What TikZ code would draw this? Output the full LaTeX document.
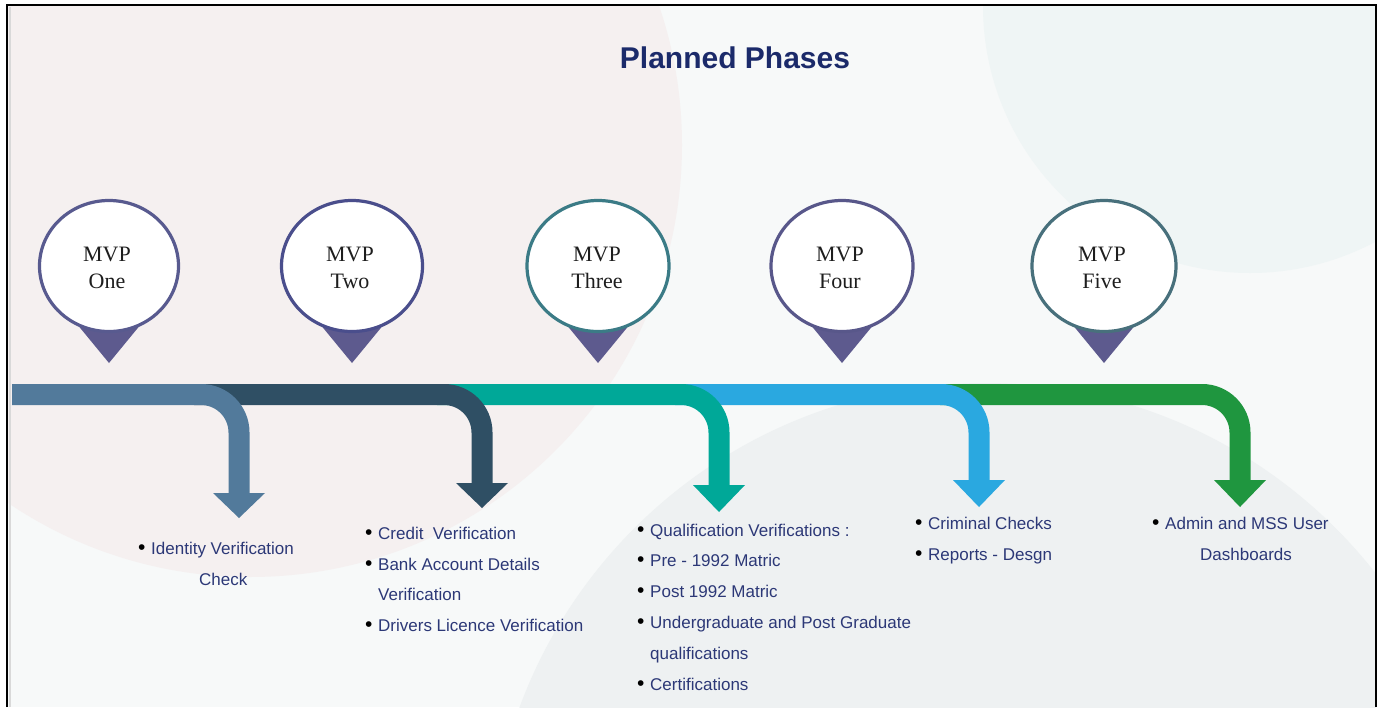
\documentclass[tikz,border=0pt]{standalone}
\usepackage{fontspec}
\setmainfont{Liberation Serif}
\newfontfamily\arialf{Liberation Sans}
\definecolor{bgbase}{HTML}{F7F9F9}
\definecolor{bgpink}{HTML}{F5F0F0}
\definecolor{bgtr}{HTML}{EFF5F5}
\definecolor{bgbr}{HTML}{EEF1F2}
\definecolor{titlec}{HTML}{1B2A6A}
\definecolor{txtc}{HTML}{2C3877}
\definecolor{mvptext}{HTML}{1E1E1E}
\definecolor{pintri}{HTML}{5D5A8E}
\definecolor{pb1}{HTML}{585A8F}
\definecolor{pb2}{HTML}{4A4E8C}
\definecolor{pb3}{HTML}{3B7B86}
\definecolor{pb4}{HTML}{58578A}
\definecolor{pb5}{HTML}{48707C}
\definecolor{ac1}{HTML}{527A9B}
\definecolor{ac2}{HTML}{2F4F64}
\definecolor{ac3}{HTML}{00A898}
\definecolor{ac4}{HTML}{2AA8E0}
\definecolor{ac5}{HTML}{1F963F}
\begin{document}
\begin{tikzpicture}[x=1pt,y=-1pt,
  band/.style={line width=21pt, rounded corners=38pt, line cap=butt},
  pincircle/.style={line width=3.2pt, fill=white},
  mvp/.style={anchor=base, inner sep=0pt, font=\fontsize{22}{26}\selectfont, text=mvptext},
  bl/.style={anchor=base west, inner sep=0pt, font=\arialf\fontsize{17}{20}\selectfont, text=txtc},
  bul/.style={anchor=base west, inner sep=0pt, font=\arialf\fontsize{21}{24}\selectfont, text=black}]
\useasboundingbox (0,0) rectangle (1380,707);
\fill[white] (0,0) rectangle (1380,707);
% background
\begin{scope}
\clip (7,5) rectangle (1376,707);
\fill[bgbase] (7,5) rectangle (1376,707);
\fill[bgpink] (250,145) circle[radius=432];
\fill[bgtr] (1250,6) circle[radius=267];
\fill[bgbr] (985,879) circle[radius=496];
\end{scope}
% frame
\draw[black, line width=2.5pt] (7,707) -- (7,5) -- (1376,5) -- (1376,707);
\draw[black!15, line width=2pt] (9.8,6.5) -- (9.8,707);
% title
\node[anchor=base, inner sep=0pt, font=\arialf\bfseries\fontsize{30}{34}\selectfont, text=titlec] (title) at (735,68) {Planned Phases};
% arrows (drawn from last to first so earlier ones lie on top)
\coordinate (s5) at (940,394.5); \coordinate (k5) at (1240,394.5); \coordinate (e5) at (1240,481);
\coordinate (s4) at (675,394.5); \coordinate (k4) at (979,394.5); \coordinate (e4) at (979,481);
\coordinate (s3) at (437,394.5); \coordinate (k3) at (719,394.5); \coordinate (e3) at (719,486);
\coordinate (s2) at (194,394.5); \coordinate (k2) at (482,394.5); \coordinate (e2) at (482,484);
\coordinate (s1) at (12,394.5); \coordinate (k1) at (239,394.5); \coordinate (e1) at (239,494);
\draw[band, ac5] (s5) -- (k5) -- (e5);
\fill[ac5] (1214,480) -- (1266,480) -- (1240,507) -- cycle;
\draw[band, ac4] (s4) -- (k4) -- (e4);
\fill[ac4] (953,480) -- (1005,480) -- (979,507) -- cycle;
\draw[band, ac3] (s3) -- (k3) -- (e3);
\fill[ac3] (693,485) -- (745,485) -- (719,512) -- cycle;
\draw[band, ac2] (s2) -- (k2) -- (e2);
\fill[ac2] (456,483) -- (508,483) -- (482,508) -- cycle;
\draw[band, ac1] (s1) -- (k1) -- (e1);
\fill[ac1] (213,493) -- (265,493) -- (239,518) -- cycle;
% pins
\fill[pintri] (72,318) -- (146,318) -- (109,363) -- cycle;
\draw[pincircle, draw=pb1] (109,266) ellipse[x radius=69.5, y radius=65.5];
\fill[pintri] (315,318) -- (389,318) -- (352,363) -- cycle;
\draw[pincircle, draw=pb2] (352,266) ellipse[x radius=70.5, y radius=65.5];
\fill[pintri] (561,318) -- (635,318) -- (598,363) -- cycle;
\draw[pincircle, draw=pb3] (598,266) ellipse[x radius=71, y radius=65.5];
\fill[pintri] (805,318) -- (879,318) -- (842,363) -- cycle;
\draw[pincircle, draw=pb4] (842,266) ellipse[x radius=71, y radius=65.5];
\fill[pintri] (1067,318) -- (1141,318) -- (1104,363) -- cycle;
\draw[pincircle, draw=pb5] (1104,266) ellipse[x radius=72, y radius=65.5];
\node[mvp] (m1a) at (107,261) {MVP}; \node[mvp] (m1b) at (107,288) {One};
\node[mvp] (m2a) at (350,261) {MVP}; \node[mvp] (m2b) at (350,288) {Two};
\node[mvp] (m3a) at (597,261) {MVP}; \node[mvp] (m3b) at (597,288) {Three};
\node[mvp] (m4a) at (840,261) {MVP}; \node[mvp] (m4b) at (840,288) {Four};
\node[mvp] (m5a) at (1102,261) {MVP}; \node[mvp] (m5b) at (1102,288) {Five};
% block 1
\node[bul] (b1a) at (138,554) {•}; \node[bl] (t1a) at (151,554) {Identity Verification};
\node[bl] (t1b) at (199,585) {Check};
% block 2
\node[bul] (b2a) at (365,539) {•}; \node[bl] (t2a) at (378,539) {Credit\ \ Verification};
\node[bul] (b2b) at (365,570) {•}; \node[bl] (t2b) at (378,570) {Bank Account Details};
\node[bl] (t2c) at (378,600) {Verification};
\node[bul] (b2d) at (365,631) {•}; \node[bl] (t2d) at (378,631) {Drivers Licence Verification};
% block 3
\node[bul] (b3a) at (637,536) {•}; \node[bl] (t3a) at (650,536) {Qualification Verifications :};
\node[bul] (b3b) at (637,566) {•}; \node[bl] (t3b) at (650,566) {Pre - 1992 Matric};
\node[bul] (b3c) at (637,597) {•}; \node[bl] (t3c) at (650,597) {Post 1992 Matric};
\node[bul] (b3d) at (637,628) {•}; \node[bl] (t3d) at (650,628) {Undergraduate and Post Graduate};
\node[bl] (t3e) at (650,659) {qualifications};
\node[bul] (b3f) at (637,690) {•}; \node[bl] (t3f) at (650,690) {Certifications};
% block 4
\node[bul] (b4a) at (915,529) {•}; \node[bl] (t4a) at (928,529) {Criminal Checks};
\node[bul] (b4b) at (915,560) {•}; \node[bl] (t4b) at (928,560) {Reports - Desgn};
% block 5
\node[bul] (b5a) at (1152,529) {•}; \node[bl] (t5a) at (1165,529) {Admin and MSS User};
\node[bl] (t5b) at (1200,560) {Dashboards};
\end{tikzpicture}
\end{document}
